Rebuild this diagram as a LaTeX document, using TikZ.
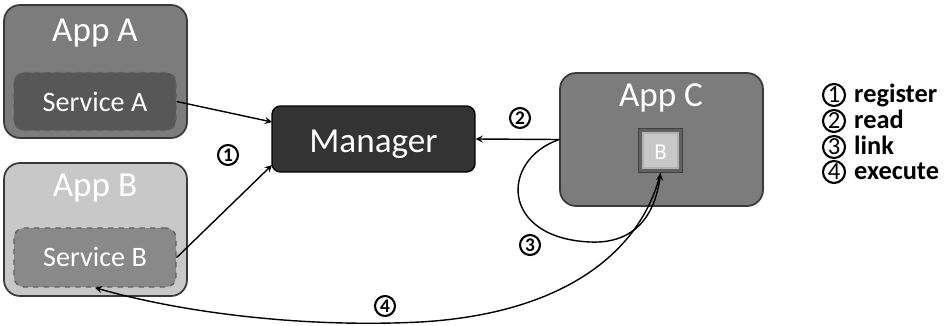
\documentclass[tikz,border=0pt]{standalone}
\usepackage{fontspec}
\setmainfont{Carlito}
\usetikzlibrary{arrows,positioning}
\definecolor{appagray}{HTML}{7C7C7C}
\definecolor{servagray}{HTML}{575757}
\definecolor{appbgray}{HTML}{C8C8C8}
\definecolor{servbgray}{HTML}{898989}
\definecolor{mangray}{HTML}{333333}
\definecolor{edgegray}{HTML}{3A3A3A}
\tikzset{
  appbox/.style={draw=edgegray, line width=1pt, rounded corners=0.32cm, minimum width=3.66cm, minimum height=2.66cm},
  servbox/.style={draw=edgegray!80, dashed, line width=0.8pt, rounded corners=0.2cm, minimum width=3.24cm, minimum height=1.16cm},
  apptitle/.style={anchor=base, text=white, font=\fontsize{20}{24}\selectfont},
  servtitle/.style={anchor=base, text=white, font=\fontsize{16}{19}\selectfont},
  numlab/.style={circle, draw, line width=1.2pt, inner sep=0pt, minimum size=0.4cm, font=\bfseries\fontsize{11}{13}\selectfont},
  legnum/.style={circle, draw, line width=1.2pt, inner sep=0pt, minimum size=0.44cm, font=\fontsize{14}{16}\selectfont},
  legtext/.style={anchor=base west, font=\bfseries\fontsize{15}{18}\selectfont},
  link/.style={line width=0.8pt, ->, >=stealth}
}
\begin{document}
\begin{tikzpicture}[x=0.02cm, y=-0.02cm]
\useasboundingbox (0,0) rectangle (949,325);
% apps
\node[appbox, fill=appagray] (appA) at (95.5,71.5) {};
\node[servbox, fill=servagray] (servA) at (95,101.5) {};
\node[apptitle] (appAt) at (95,41) {App A};
\node[servtitle] (servAt) at (95,111) {Service A};
\node[appbox, fill=appbgray] (appB) at (95.5,229.5) {};
\node[servbox, fill=servbgray, minimum height=1.18cm] (servB) at (95,257.5) {};
\node[apptitle] (appBt) at (95,196) {App B};
\node[servtitle] (servBt) at (95,266) {Service B};
\node[draw=black, line width=0.8pt, fill=mangray, rounded corners=0.17cm, minimum width=4.06cm, minimum height=1.32cm] (man) at (373.5,139) {};
\node[anchor=base, text=white, font=\fontsize{20}{24}\selectfont] (mant) at (373.5,152) {Manager};
\node[appbox, fill=appagray, minimum width=4.06cm] (appC) at (661.5,139.5) {};
\node[apptitle] (appCt) at (661,106) {App C};
\node[draw=black!75, line width=0.8pt, fill=black!62, minimum size=0.88cm] (bsq) at (660.5,150.5) {};
\node[draw=white!70!black, line width=0.6pt, fill=black!22, minimum size=0.7cm] (bin) at (bsq) {};
\node[anchor=base, text=white, font=\fontsize{13}{15}\selectfont] (bt) at (660.5,159) {B};
% connectors
\coordinate (manA) at (272,122);
\coordinate (manB) at (272,165);
\draw[link] (servA.east) -- (manA);
\draw[link] (servB.east) -- (manB);
\draw[link] (appC.west) -- (man.east);
\draw[link] (appC.west) .. controls (500,160) and (500,238) .. (590,242) .. controls (635,244) and (655,215) .. (bsq.south);
\draw[link] (bsq.south) .. controls (640,255) and (560,314) .. (420,322) .. controls (300,328) and (180,312) .. (servB.south);
\node[numlab] (n1) at (228,155) {1};
\node[numlab] (n2) at (520,118) {2};
\node[numlab] (n3) at (530,245) {3};
\node[numlab] (n4) at (385,306) {4};
% legend
\node[legnum] (l1) at (834,95) {1};
\node[legnum] (l2) at (834,121) {2};
\node[legnum] (l3) at (834,147) {3};
\node[legnum] (l4) at (834,172) {4};
\node[legtext] (t1) at (848,102) {register};
\node[legtext] (t2) at (848,128) {read};
\node[legtext] (t3) at (848,154) {link};
\node[legtext] (t4) at (848,179) {execute};
\end{tikzpicture}
\end{document}
